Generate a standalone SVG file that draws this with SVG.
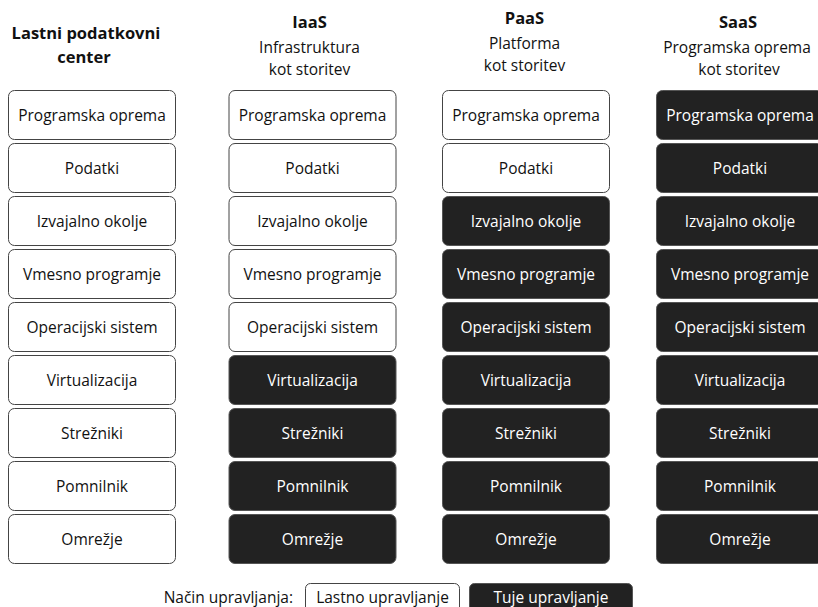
<svg xmlns="http://www.w3.org/2000/svg" width="818" height="607" viewBox="0 0 818 607">
<style>
text{font-family:"Open Sans","Liberation Sans",sans-serif;font-size:15.5px;text-anchor:middle;fill:#111}
.h{font-weight:bold;font-size:16.5px}
.w rect{fill:#fff;stroke:#444;stroke-width:1}
.d rect{fill:#222;stroke:#555;stroke-width:1}
.d text{fill:#fff}
</style>
<rect width="818" height="607" fill="#fff"/>
<g id="headers">
<text class="h" x="86" y="39">Lastni podatkovni</text>
<text class="h" x="84" y="63">center</text>
<text class="h" x="309.5" y="28">IaaS</text>
<text x="309.5" y="53">Infrastruktura</text>
<text x="309.5" y="75">kot storitev</text>
<text class="h" x="524.5" y="23.5">PaaS</text>
<text x="524.5" y="48.5">Platforma</text>
<text x="524.5" y="71">kot storitev</text>
<text class="h" x="738" y="28">SaaS</text>
<text x="737" y="53">Programska oprema</text>
<text x="739" y="75">kot storitev</text>
</g>
<!-- Column 1: Lastni podatkovni center -->
<g id="c1r1" class="w"><rect x="8.5" y="90.5" width="167" height="49" rx="6"/><text x="92" y="121">Programska oprema</text></g>
<g id="c1r2" class="w"><rect x="8.5" y="143.5" width="167" height="49" rx="6"/><text x="92" y="174">Podatki</text></g>
<g id="c1r3" class="w"><rect x="8.5" y="196.5" width="167" height="49" rx="6"/><text x="92" y="227">Izvajalno okolje</text></g>
<g id="c1r4" class="w"><rect x="8.5" y="249.5" width="167" height="49" rx="6"/><text x="92" y="280">Vmesno programje</text></g>
<g id="c1r5" class="w"><rect x="8.5" y="302.5" width="167" height="49" rx="6"/><text x="92" y="333">Operacijski sistem</text></g>
<g id="c1r6" class="w"><rect x="8.5" y="355.5" width="167" height="49" rx="6"/><text x="92" y="386">Virtualizacija</text></g>
<g id="c1r7" class="w"><rect x="8.5" y="408.5" width="167" height="49" rx="6"/><text x="92" y="439">Strežniki</text></g>
<g id="c1r8" class="w"><rect x="8.5" y="461.5" width="167" height="49" rx="6"/><text x="92" y="492">Pomnilnik</text></g>
<g id="c1r9" class="w"><rect x="8.5" y="514.5" width="167" height="49" rx="6"/><text x="92" y="545">Omrežje</text></g>
<!-- Column 2: IaaS -->
<g id="c2r1" class="w"><rect x="229" y="90.5" width="167" height="49" rx="6"/><text x="312.5" y="121">Programska oprema</text></g>
<g id="c2r2" class="w"><rect x="229" y="143.5" width="167" height="49" rx="6"/><text x="312.5" y="174">Podatki</text></g>
<g id="c2r3" class="w"><rect x="229" y="196.5" width="167" height="49" rx="6"/><text x="312.5" y="227">Izvajalno okolje</text></g>
<g id="c2r4" class="w"><rect x="229" y="249.5" width="167" height="49" rx="6"/><text x="312.5" y="280">Vmesno programje</text></g>
<g id="c2r5" class="w"><rect x="229" y="302.5" width="167" height="49" rx="6"/><text x="312.5" y="333">Operacijski sistem</text></g>
<g id="c2r6" class="d"><rect x="229" y="355.5" width="167" height="49" rx="6"/><text x="312.5" y="386">Virtualizacija</text></g>
<g id="c2r7" class="d"><rect x="229" y="408.5" width="167" height="49" rx="6"/><text x="312.5" y="439">Strežniki</text></g>
<g id="c2r8" class="d"><rect x="229" y="461.5" width="167" height="49" rx="6"/><text x="312.5" y="492">Pomnilnik</text></g>
<g id="c2r9" class="d"><rect x="229" y="514.5" width="167" height="49" rx="6"/><text x="312.5" y="545">Omrežje</text></g>
<!-- Column 3: PaaS -->
<g id="c3r1" class="w"><rect x="442.5" y="90.5" width="167" height="49" rx="6"/><text x="526" y="121">Programska oprema</text></g>
<g id="c3r2" class="w"><rect x="442.5" y="143.5" width="167" height="49" rx="6"/><text x="526" y="174">Podatki</text></g>
<g id="c3r3" class="d"><rect x="442.5" y="196.5" width="167" height="49" rx="6"/><text x="526" y="227">Izvajalno okolje</text></g>
<g id="c3r4" class="d"><rect x="442.5" y="249.5" width="167" height="49" rx="6"/><text x="526" y="280">Vmesno programje</text></g>
<g id="c3r5" class="d"><rect x="442.5" y="302.5" width="167" height="49" rx="6"/><text x="526" y="333">Operacijski sistem</text></g>
<g id="c3r6" class="d"><rect x="442.5" y="355.5" width="167" height="49" rx="6"/><text x="526" y="386">Virtualizacija</text></g>
<g id="c3r7" class="d"><rect x="442.5" y="408.5" width="167" height="49" rx="6"/><text x="526" y="439">Strežniki</text></g>
<g id="c3r8" class="d"><rect x="442.5" y="461.5" width="167" height="49" rx="6"/><text x="526" y="492">Pomnilnik</text></g>
<g id="c3r9" class="d"><rect x="442.5" y="514.5" width="167" height="49" rx="6"/><text x="526" y="545">Omrežje</text></g>
<!-- Column 4: SaaS -->
<g id="c4r1" class="d"><rect x="656.5" y="90.5" width="167" height="49" rx="6"/><text x="740" y="121">Programska oprema</text></g>
<g id="c4r2" class="d"><rect x="656.5" y="143.5" width="167" height="49" rx="6"/><text x="740" y="174">Podatki</text></g>
<g id="c4r3" class="d"><rect x="656.5" y="196.5" width="167" height="49" rx="6"/><text x="740" y="227">Izvajalno okolje</text></g>
<g id="c4r4" class="d"><rect x="656.5" y="249.5" width="167" height="49" rx="6"/><text x="740" y="280">Vmesno programje</text></g>
<g id="c4r5" class="d"><rect x="656.5" y="302.5" width="167" height="49" rx="6"/><text x="740" y="333">Operacijski sistem</text></g>
<g id="c4r6" class="d"><rect x="656.5" y="355.5" width="167" height="49" rx="6"/><text x="740" y="386">Virtualizacija</text></g>
<g id="c4r7" class="d"><rect x="656.5" y="408.5" width="167" height="49" rx="6"/><text x="740" y="439">Strežniki</text></g>
<g id="c4r8" class="d"><rect x="656.5" y="461.5" width="167" height="49" rx="6"/><text x="740" y="492">Pomnilnik</text></g>
<g id="c4r9" class="d"><rect x="656.5" y="514.5" width="167" height="49" rx="6"/><text x="740" y="545">Omrežje</text></g>
<!-- Legend -->
<g id="legend">
<text x="293" y="603" style="text-anchor:end">Način upravljanja:</text>
<g id="legend-own" class="w"><rect x="305.5" y="583.5" width="154" height="30" rx="5"/><text x="382.5" y="603">Lastno upravljanje</text></g>
<g id="legend-other" class="d"><rect x="469.5" y="583.5" width="163" height="30" rx="5"/><text x="551" y="603">Tuje upravljanje</text></g>
</g>
</svg>
